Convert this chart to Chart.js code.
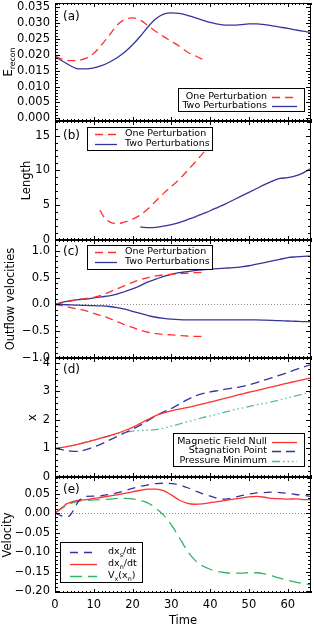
<!DOCTYPE html>
<html>
<head>
<meta charset="utf-8">
<title>Reconnection panels</title>
<script src="https://cdn.jsdelivr.net/npm/chart.js@4.4.1/dist/chart.umd.min.js"></script>
<style>
  html, body { margin: 0; padding: 0; background: #fff; }
  #fig { position: relative; width: 314px; height: 632px; overflow: hidden; }
  #fig canvas { position: absolute; left: 0; }
</style>
</head>
<body>
<div id="fig"></div>
<script>
// shared time axis
const timeTicks = [0, 10, 20, 30, 40, 50, 60];
const tEven = [0, 2, 4, 6, 8, 10, 12, 14, 16, 18, 20, 22, 24, 26, 28, 30, 32, 34, 36, 38, 40, 42, 44, 46, 48, 50, 52, 54, 56, 58, 60, 62, 64, 66];

// (a) reconnection rate
const tOneA = [0, 2, 4, 6, 8, 10, 12, 14, 16, 18, 20, 22, 24, 26, 28, 30, 32, 34, 36, 38.5];
const eReconOne = [0.0196, 0.0186, 0.0182, 0.0183, 0.0190, 0.0205, 0.0232, 0.0262, 0.0294, 0.0312, 0.0317, 0.0310, 0.0292, 0.0274, 0.0258, 0.0243, 0.0228, 0.0210, 0.0198, 0.0184];
const eReconTwo = [0.0196, 0.0180, 0.0166, 0.0156, 0.0156, 0.0159, 0.0166, 0.0177, 0.0191, 0.0209, 0.0232, 0.0259, 0.0289, 0.0314, 0.0329, 0.0333, 0.0331, 0.0326, 0.0318, 0.0310, 0.0303, 0.0297, 0.0294, 0.0294, 0.0296, 0.0298, 0.0298, 0.0296, 0.0292, 0.0288, 0.0284, 0.0279, 0.0275, 0.0271];
const ticksA = [0, 0.005, 0.010, 0.015, 0.020, 0.025, 0.030, 0.035];

// (b) current sheet length
const tOneB = [11.6, 12.5, 13.5, 14.5, 15.5, 16.5, 18, 20, 22, 24, 26, 28, 30, 32, 34, 36, 38.5];
const lengthOne = [4.3, 3.4, 2.8, 2.5, 2.4, 2.4, 2.6, 3.0, 3.6, 4.5, 5.6, 6.7, 7.7, 8.7, 9.9, 11.1, 12.7];
const tTwoB = [22, 23, 24.5, 26, 28, 30, 32, 34, 36, 38, 40, 42, 44, 46, 48, 50, 52, 54, 56, 58, 60, 62, 64, 66];
const lengthTwo = [1.9, 1.8, 1.77, 1.82, 1.98, 2.2, 2.5, 2.9, 3.3, 3.75, 4.2, 4.7, 5.2, 5.75, 6.3, 6.85, 7.4, 7.95, 8.45, 8.85, 8.95, 9.2, 9.65, 10.3];
const ticksB = [0, 5, 10, 15];

// (c) outflow velocities
const tOneC = [0, 2, 4, 6, 8, 10, 12, 14, 16, 18, 20, 22, 24, 26, 28, 30, 32, 34, 36, 38.5];
const outOneUp = [0, 0.03, 0.06, 0.09, 0.11, 0.13, 0.17, 0.23, 0.29, 0.35, 0.41, 0.46, 0.50, 0.53, 0.55, 0.56, 0.57, 0.58, 0.59, 0.60];
const outOneDown = [0, -0.03, -0.06, -0.09, -0.12, -0.17, -0.21, -0.26, -0.32, -0.38, -0.43, -0.48, -0.52, -0.545, -0.56, -0.57, -0.58, -0.59, -0.595, -0.60];
const outTwoUp = [0, 0.04, 0.07, 0.09, 0.10, 0.12, 0.14, 0.16, 0.19, 0.24, 0.29, 0.35, 0.42, 0.47, 0.52, 0.56, 0.59, 0.61, 0.63, 0.645, 0.655, 0.665, 0.675, 0.685, 0.70, 0.72, 0.75, 0.78, 0.81, 0.84, 0.87, 0.885, 0.895, 0.90];
const outTwoDown = [0, -0.005, -0.01, -0.015, -0.02, -0.025, -0.03, -0.04, -0.06, -0.09, -0.13, -0.17, -0.21, -0.24, -0.26, -0.275, -0.285, -0.29, -0.29, -0.29, -0.29, -0.29, -0.29, -0.29, -0.29, -0.29, -0.29, -0.295, -0.30, -0.305, -0.31, -0.315, -0.32, -0.32];
const ticksC = [-1.0, -0.5, 0, 0.5, 1.0];

// (d) positions
const xNull = [1.0, 1.04, 1.09, 1.15, 1.22, 1.29, 1.37, 1.45, 1.53, 1.63, 1.74, 1.88, 2.02, 2.15, 2.25, 2.32, 2.38, 2.43, 2.49, 2.56, 2.62, 2.69, 2.76, 2.83, 2.90, 2.97, 3.03, 3.10, 3.16, 3.23, 3.29, 3.35, 3.41, 3.47];
const xStag = [1.0, 0.95, 0.91, 0.90, 0.96, 1.05, 1.16, 1.29, 1.42, 1.55, 1.68, 1.82, 1.98, 2.14, 2.28, 2.40, 2.55, 2.70, 2.83, 2.92, 2.98, 3.03, 3.08, 3.12, 3.17, 3.23, 3.31, 3.40, 3.48, 3.57, 3.66, 3.76, 3.85, 3.94];
const xPmin = [1.0, 1.04, 1.09, 1.15, 1.22, 1.29, 1.36, 1.43, 1.50, 1.57, 1.61, 1.63, 1.64, 1.66, 1.71, 1.78, 1.85, 1.93, 2.00, 2.08, 2.14, 2.21, 2.28, 2.35, 2.41, 2.47, 2.53, 2.58, 2.64, 2.70, 2.77, 2.84, 2.91, 2.98];
const ticksD = [0, 1, 2, 3, 4];

// (e) velocities
const tE = [0, 1, 2, 3, 4, 5, 6, 8, 10, 12, 14, 16, 18, 20, 22, 24, 26, 28, 30, 32, 34, 36, 38, 40, 42, 44, 46, 48, 50, 52, 54, 56, 58, 60, 62, 64, 66];
const dxsdt = [0, -0.004, -0.008, -0.010, -0.004, 0.012, 0.030, 0.043, 0.044, 0.045, 0.048, 0.052, 0.058, 0.064, 0.069, 0.073, 0.076, 0.077, 0.076, 0.073, 0.066, 0.058, 0.050, 0.044, 0.038, 0.036, 0.040, 0.045, 0.049, 0.052, 0.053, 0.054, 0.053, 0.051, 0.048, 0.046, 0.043];
const dxndt = [0, 0.008, 0.016, 0.024, 0.028, 0.031, 0.033, 0.035, 0.038, 0.041, 0.044, 0.047, 0.051, 0.055, 0.059, 0.062, 0.062, 0.058, 0.047, 0.034, 0.026, 0.023, 0.024, 0.027, 0.030, 0.033, 0.036, 0.039, 0.042, 0.043, 0.041, 0.038, 0.037, 0.036, 0.037, 0.035, 0.035];
const vxAtNull = [0, 0.007, 0.014, 0.020, 0.025, 0.028, 0.031, 0.033, 0.034, 0.035, 0.036, 0.038, 0.038, 0.037, 0.033, 0.026, 0.013, -0.005, -0.030, -0.062, -0.095, -0.120, -0.135, -0.144, -0.150, -0.153, -0.154, -0.154, -0.153, -0.153, -0.156, -0.161, -0.167, -0.172, -0.177, -0.181, -0.184];
const ticksE = [-0.20, -0.15, -0.10, -0.05, 0, 0.05];

const RED = '#ff3030', NAVY = '#34349c', TEAL = '#5db99c', GREEN = '#2eb565';
const FONT = 'DejaVu Sans';

function pts(xs, ys) { return xs.map((x, i) => ({ x: x, y: ys[i] })); }

function line(label, xs, ys, color, dash) {
  return {
    label: label, data: pts(xs, ys), borderColor: color, borderWidth: 1.3,
    borderDash: dash || [], pointRadius: 0, fill: false, cubicInterpolationMode: 'monotone'
  };
}

// "E_{recon}" -> E with subscript
function richParts(str) {
  const parts = [];
  const re = /_\{([^}]*)\}/g;
  let last = 0, m;
  while ((m = re.exec(str))) {
    if (m.index > last) parts.push({ t: str.slice(last, m.index), sub: false });
    parts.push({ t: m[1], sub: true });
    last = re.lastIndex;
  }
  if (last < str.length) parts.push({ t: str.slice(last), sub: false });
  return parts;
}

function drawRich(ctx, str, x, y, size, align) {
  const parts = richParts(str);
  const sub = size * 0.68;
  let w = 0;
  parts.forEach(p => {
    ctx.font = (p.sub ? sub : size) + 'px "' + FONT + '"';
    p.w = ctx.measureText(p.t).width;
    w += p.w;
  });
  let cx = align === 'right' ? x - w : align === 'center' ? x - w / 2 : x;
  ctx.textAlign = 'left';
  ctx.textBaseline = 'middle';
  parts.forEach(p => {
    ctx.font = (p.sub ? sub : size) + 'px "' + FONT + '"';
    ctx.fillText(p.t, cx, p.sub ? y + size * 0.32 : y);
    cx += p.w;
  });
}

// IDL-like frame: inward ticks on all sides, tag, legend box, rotated title
const idlPanel = {
  id: 'idlPanel',
  beforeDatasetsDraw(chart, args, o) {
    if (!o.zeroLine) return;
    const { ctx, chartArea: a, scales: { y } } = chart;
    const py = Math.round(y.getPixelForValue(0)) + 0.5;
    ctx.save();
    ctx.strokeStyle = '#8c8c8c';
    ctx.lineWidth = 1;
    ctx.setLineDash([1, 2]);
    ctx.beginPath();
    ctx.moveTo(a.left, py);
    ctx.lineTo(a.right, py);
    ctx.stroke();
    ctx.restore();
  },
  afterDraw(chart, args, o) {
    const { ctx, chartArea: a, scales: { x, y } } = chart;
    const L0 = Math.round(a.left), T0 = Math.round(a.top);
    const R0 = Math.round(a.right), B0 = Math.round(a.bottom);
    ctx.save();
    ctx.fillStyle = '#000';
    ctx.fillRect(L0, T0, R0 - L0, 1);
    ctx.fillRect(L0, B0 - 1, R0 - L0, 1);
    ctx.fillRect(L0, T0, 1, B0 - T0);
    ctx.fillRect(R0 - 1, T0, 1, B0 - T0);

    const k0x = Math.ceil(x.min / o.xMinor - 1e-6);
    for (let k = k0x; k * o.xMinor <= x.max + 1e-9; k++) {
      const v = k * o.xMinor;
      const major = Math.abs(v / o.xMajor - Math.round(v / o.xMajor)) < 1e-6;
      const len = major ? 4 : 2;
      const px = Math.round(x.getPixelForValue(v));
      ctx.fillRect(px, B0 - len, 1, len);
      ctx.fillRect(px, T0, 1, len);
    }
    const k0y = Math.ceil(y.min / o.yMinor - 1e-6);
    for (let k = k0y; k * o.yMinor <= y.max + 1e-9; k++) {
      const v = k * o.yMinor;
      const major = Math.abs(v / o.yMajor - Math.round(v / o.yMajor)) < 1e-6;
      const len = major ? 5 : 3;
      const py = Math.round(y.getPixelForValue(v));
      ctx.fillRect(L0, py, len, 1);
      ctx.fillRect(R0 - len, py, len, 1);
    }

    // panel tag
    ctx.fillStyle = '#000';
    ctx.font = '12px "' + FONT + '"';
    ctx.textAlign = 'left';
    ctx.textBaseline = 'middle';
    ctx.fillText(o.tag, a.left + 8, a.top + o.tagY);

    // legend
    const L = o.legend;
    const bx = Math.round(a.left + L.x), by = Math.round(a.top + L.y);
    ctx.fillStyle = '#fff';
    ctx.fillRect(bx, by, L.w, L.h);
    ctx.fillStyle = '#000';
    ctx.fillRect(bx, by, L.w, 1);
    ctx.fillRect(bx, by + L.h - 1, L.w, 1);
    ctx.fillRect(bx, by, 1, L.h);
    ctx.fillRect(bx + L.w - 1, by, 1, L.h);
    chart.data.datasets.filter(ds => ds.label).forEach((ds, i) => {
      const ry = a.top + L.rows[i];
      ctx.strokeStyle = ds.borderColor;
      ctx.lineWidth = ds.borderWidth;
      ctx.setLineDash(ds.borderDash);
      ctx.beginPath();
      ctx.moveTo(a.left + L.sample[0], Math.round(ry) + 0.5);
      ctx.lineTo(a.left + L.sample[1], Math.round(ry) + 0.5);
      ctx.stroke();
      ctx.setLineDash([]);
      ctx.fillStyle = '#000';
      drawRich(ctx, ds.label, a.left + L.textX, ry, 9.5, L.align);
    });

    // y title, rotated
    ctx.save();
    ctx.translate(o.titleX, (a.top + a.bottom) / 2);
    ctx.rotate(-Math.PI / 2);
    ctx.fillStyle = '#000';
    drawRich(ctx, o.yTitle, 0, 0, 11.5, 'center');
    ctx.restore();
    ctx.restore();
  }
};

function fmt(dec) {
  return v => {
    const s = Math.abs(v).toFixed(dec);
    return v < -1e-12 ? '\u2212' + s : s;
  };
}

function addPanel(top, bottom, datasets, yMin, yMax, yTicks, dec, panelOpts, isBottom) {
  const pad = 12;
  const last = isBottom === true;
  const cTop = top - pad;
  const cHeight = last ? 632 - cTop : bottom - top + 2 * pad;
  const canvas = document.createElement('canvas');
  canvas.width = 314;
  canvas.height = cHeight;
  canvas.style.top = cTop + 'px';
  canvas.style.width = '314px';
  canvas.style.height = cHeight + 'px';
  document.getElementById('fig').appendChild(canvas);

  new Chart(canvas, {
    type: 'line',
    data: { datasets: datasets },
    plugins: [idlPanel],
    options: {
      responsive: false,
      animation: false,
      events: [],
      layout: { padding: { left: 0, right: 3, top: pad, bottom: last ? 0 : pad } },
      plugins: {
        legend: { display: false },
        tooltip: { enabled: false },
        idlPanel: panelOpts
      },
      scales: {
        x: {
          type: 'linear', min: 0, max: 66, display: last,
          afterBuildTicks: s => { s.ticks = timeTicks.map(v => ({ value: v })); },
          afterFit: s => { if (last) s.height = 39; },
          grid: { display: false, drawTicks: false },
          border: { display: false },
          ticks: { padding: 5, autoSkip: false, maxRotation: 0, color: '#000', font: { family: FONT, size: 11.5 } },
          title: { display: true, text: 'Time', color: '#000', font: { family: FONT, size: 11.5 }, padding: { top: 0, bottom: 4 } }
        },
        y: {
          type: 'linear', min: yMin, max: yMax,
          afterBuildTicks: s => { s.ticks = yTicks.map(v => ({ value: v })); },
          afterFit: s => { s.width = 55; },
          grid: { display: false, drawTicks: false },
          border: { display: false },
          ticks: { padding: 5, autoSkip: false, color: '#000', font: { family: FONT, size: 11.5 }, callback: fmt(dec) }
        }
      }
    }
  });
}

const dash = [8, 5];

addPanel(3, 121, [
  line('One Perturbation', tOneA, eReconOne, RED, dash),
  line('Two Perturbations', tEven, eReconTwo, NAVY)
], -0.00085, 0.0364, ticksA, 3, {
  tag: '(a)', tagY: 14, yTitle: 'E_{recon}', titleX: 9,
  xMajor: 10, xMinor: 1, yMajor: 0.005, yMinor: 0.001,
  legend: { x: 123, y: 85, w: 127, h: 24, rows: [93.5, 102.5], sample: [217, 242], textX: 212, align: 'right' }
});

addPanel(121, 240, [
  line('One Perturbation', tOneB, lengthOne, RED, dash),
  line('Two Perturbations', tTwoB, lengthTwo, NAVY)
], 0, 17.1, ticksB, 0, {
  tag: '(b)', tagY: 15, yTitle: 'Length', titleX: 27,
  xMajor: 10, xMinor: 1, yMajor: 5, yMinor: 1,
  legend: { x: 32, y: 6, w: 126, h: 24, rows: [13, 23], sample: [40, 62], textX: 70, align: 'left' }
});

addPanel(240, 358, [
  line('One Perturbation', tOneC, outOneUp, RED, dash),
  line('Two Perturbations', tEven, outTwoUp, NAVY),
  line('', tOneC, outOneDown, RED, dash),
  line('', tEven, outTwoDown, NAVY)
], -1.0, 1.2, ticksC, 1, {
  tag: '(c)', tagY: 12, yTitle: 'Outflow velocities', titleX: 11, zeroLine: true,
  xMajor: 10, xMinor: 1, yMajor: 0.5, yMinor: 0.1,
  legend: { x: 32, y: 5, w: 126, h: 25, rows: [12, 22], sample: [40, 62], textX: 70, align: 'left' }
});

addPanel(358, 477, [
  line('Magnetic Field Null', tEven, xNull, RED),
  line('Stagnation Point', tEven, xStag, NAVY, [9, 5]),
  line('Pressure Minimum', tEven, xPmin, TEAL, [8, 3, 1.5, 3, 1.5, 3, 1.5, 3])
], 0, 4.17, ticksD, 0, {
  tag: '(d)', tagY: 12, yTitle: 'x', titleX: 33,
  xMajor: 10, xMinor: 1, yMajor: 1, yMinor: 0.2,
  legend: { x: 118, y: 75, w: 132, h: 34, rows: [83.5, 93, 102.5], sample: [217, 242], textX: 212, align: 'right' }
});

addPanel(477, 593, [
  line('dx_{s}/dt', tE, dxsdt, NAVY, [8, 6]),
  line('dx_{n}/dt', tE, dxndt, RED),
  line('V_{x}(x_{n})', tE, vxAtNull, GREEN, [12, 6])
], -0.205, 0.093, ticksE, 2, {
  tag: '(e)', tagY: 13, yTitle: 'Velocity', titleX: 8, zeroLine: true,
  xMajor: 10, xMinor: 1, yMajor: 0.05, yMinor: 0.01,
  legend: { x: 5, y: 65, w: 83, h: 41, rows: [75, 87, 99], sample: [15, 42], textX: 53, align: 'left' }
}, true);
</script>
</body>
</html>
